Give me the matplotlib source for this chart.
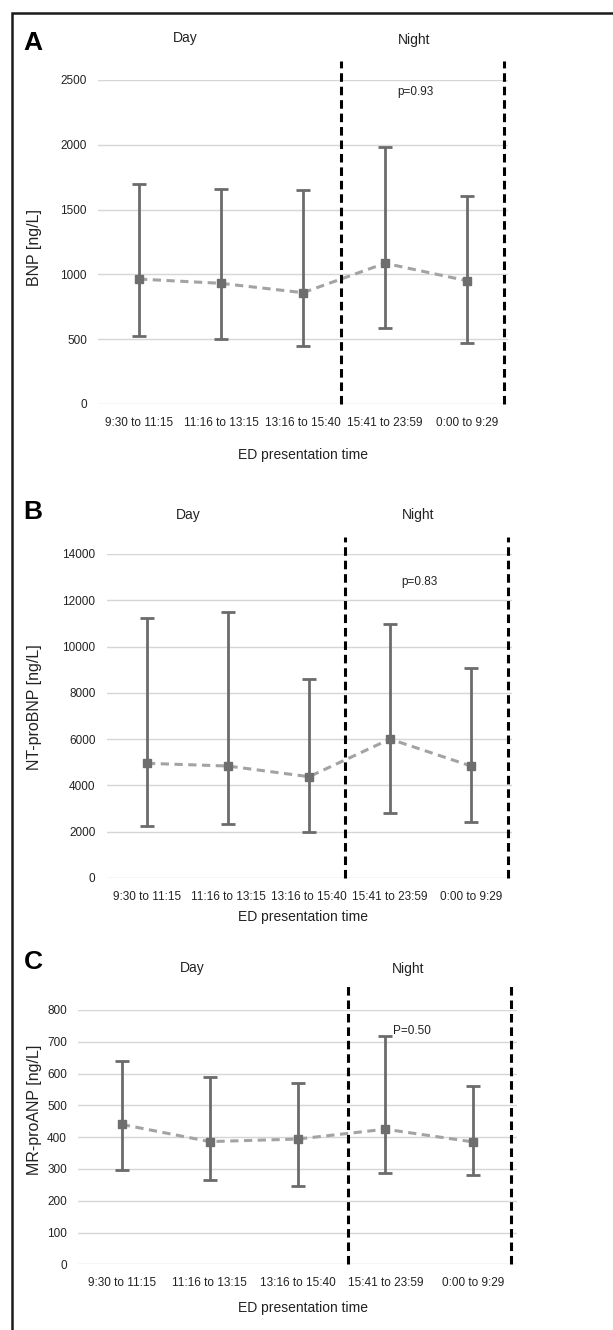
import matplotlib.pyplot as plt
from matplotlib.patches import Rectangle

plt.rcParams['font.family'] = ['Liberation Sans', 'DejaVu Sans']

# shared categories
times = ["9:30 to 11:15", "11:16 to 13:15", "13:16 to 15:40", "15:41 to 23:59", "0:00 to 9:29"]

# A - BNP
bnp_mean = [964, 931, 859, 1086, 951]
bnp_upper = [1700, 1657, 1649, 1983, 1602]
bnp_lower = [525, 502, 450, 584, 473]

# B - NT-proBNP
ntp_mean = [4955, 4838, 4376, 6004, 4838]
ntp_upper = [11218, 11503, 8583, 10985, 9058]
ntp_lower = [2246, 2333, 1987, 2821, 2406]

# C - MR-proANP
mrp_mean = [440, 386, 394, 425, 385]
mrp_upper = [639, 590, 570, 718, 562]
mrp_lower = [298, 264, 246, 287, 280]

W, H = 613, 1330
fig = plt.figure(figsize=(W / 100, H / 100), dpi=100)


def px(x, y):
    return x / W, 1 - y / H


def panel(left, right, top, bottom, mean, upper, lower, yticks, vtop, vlines):
    ax = fig.add_axes([left / W, 1 - bottom / H, (right - left) / W, (bottom - top) / H])
    xs = [i + 0.5 for i in range(len(times))]
    err = [[m - lo for m, lo in zip(mean, lower)], [up - m for m, up in zip(mean, upper)]]
    ax.errorbar(xs, mean, yerr=err, fmt='none', ecolor='#6b6b6b', elinewidth=2,
                capsize=5, capthick=2, zorder=3)
    ax.plot(xs, mean, ls=(0, (2.7, 1.8)), color='#a3a3a3', lw=2.2, zorder=4)
    ax.plot(xs, mean, ls='none', marker='s', ms=5.5, color='#6e6e6e', zorder=5)
    for v in vlines:
        ax.plot([v, v], [0, vtop], color='black', ls=(0, (2.8, 1.6)), lw=2.2,
                clip_on=False, zorder=6)
    ax.set_xlim(0, len(times))
    ax.set_ylim(0, yticks[-1])
    ax.set_yticks(yticks)
    ax.set_xticks(xs)
    ax.set_xticklabels(times)
    ax.tick_params(length=0, labelsize=8.5, colors='#222222')
    ax.tick_params(axis='x', pad=9)
    ax.tick_params(axis='y', pad=8)
    ax.grid(True, axis='y', color='#d6d6d6', lw=1)
    ax.set_axisbelow(True)
    for s in ax.spines.values():
        s.set_visible(False)
    return ax


panel(98, 508, 80, 404, bnp_mean, bnp_upper, bnp_lower,
      [0, 500, 1000, 1500, 2000, 2500], 2650, [2.96, 4.95])
panel(106.5, 511.5, 554, 878, ntp_mean, ntp_upper, ntp_lower,
      [0, 2000, 4000, 6000, 8000, 10000, 12000, 14000], 14730, [2.94, 4.96])
panel(78, 517, 1010, 1264.3, mrp_mean, mrp_upper, mrp_lower,
      [0, 100, 200, 300, 400, 500, 600, 700, 800], 888, [3.07, 4.93])

# texts: panel letters, Day/Night, p-values, axis labels
for letter, y in [("A", 43), ("B", 512), ("C", 962)]:
    fig.text(*px(33, y), letter, fontsize=19, fontweight='bold', ha='center', va='center')

for x, y, s in [(185, 38, "Day"), (414, 40, "Night"), (188, 515, "Day"), (418, 515, "Night"),
                (192, 968, "Day"), (408, 969, "Night")]:
    fig.text(*px(x, y), s, fontsize=10, ha='center', va='center', color='#222222')

for x, y, s in [(415, 92, "p=0.93"), (419, 582, "p=0.83"), (412, 1031, "P=0.50")]:
    fig.text(*px(x, y), s, fontsize=8.5, ha='center', va='center', color='#222222')

for y in [455, 917, 1308]:
    fig.text(*px(303, y), "ED presentation time", fontsize=10, ha='center', va='center',
             color='#222222')

for y, s in [(247, "BNP [ng/L]"), (707, "NT-proBNP [ng/L]"), (1110, "MR-proANP [ng/L]")]:
    fig.text(*px(35, y), s, fontsize=11.5, rotation=90, ha='center', va='center',
             color='#222222')

# outer frame (open at right and bottom)
fig.add_artist(Rectangle(px(12, 1400), 700 / W, (1400 - 12.5) / H, transform=fig.transFigure,
                         fill=False, ec='#1a1a1a', lw=1.8))

fig.savefig("out.png", dpi=100)
